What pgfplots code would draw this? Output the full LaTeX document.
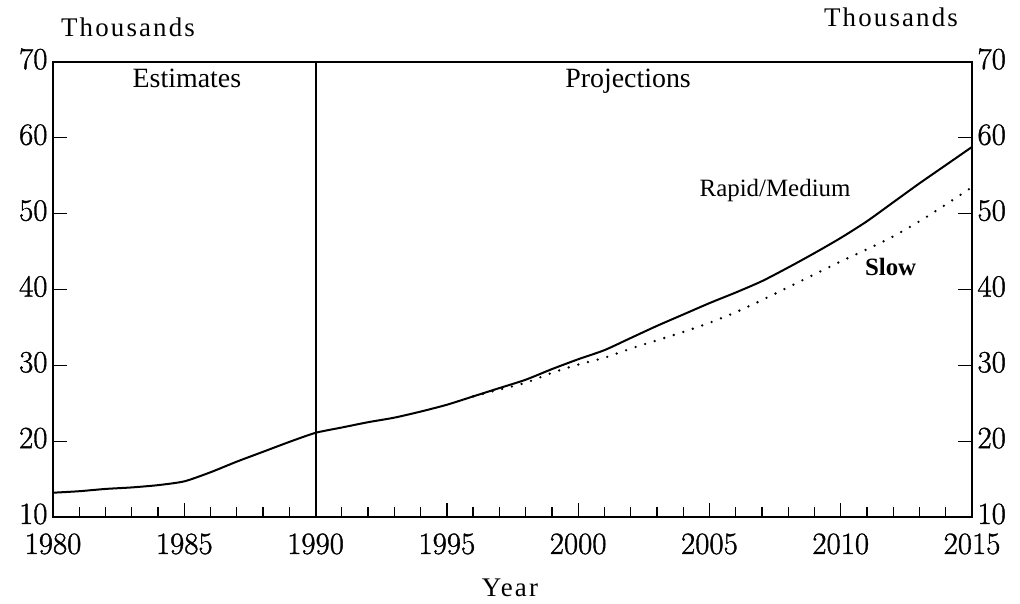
\documentclass[border=0pt]{standalone}
\usepackage{pgfplots}
\pgfplotsset{compat=1.18}
\usepackage{fontspec}
\setmainfont{Liberation Serif}
\newfontfamily\lm[FakeBold=1.2]{Latin Modern Roman}
\newfontfamily\spaced[LetterSpace=8]{Liberation Serif}

\pgfplotstableread{
year val
1980 13.2
1981 13.4
1982 13.7
1983 13.9
1984 14.2
1985 14.7
1986 15.9
1987 17.3
1988 18.6
1989 19.9
1990 21.1
1991 21.8
1992 22.5
1993 23.1
1994 23.9
1995 24.8
1996 25.9
1997 27.0
1998 28.1
1999 29.5
2000 30.8
2001 32.0
2002 33.6
2003 35.2
2004 36.7
2005 38.2
2006 39.6
2007 41.1
2008 42.9
2009 44.8
2010 46.8
2011 49.0
2012 51.5
2013 54.0
2014 56.4
2015 58.8
}\rapid

\pgfplotstableread{
year val
1996 25.9
1997 26.8
1998 27.7
1999 29.0
2000 30.1
2001 31.0
2002 32.2
2003 33.3
2004 34.4
2005 35.6
2006 37.0
2007 38.6
2008 40.3
2009 42.0
2010 43.7
2011 45.3
2012 47.0
2013 49.0
2014 51.2
2015 53.5
}\slow

\begin{document}
\begin{tikzpicture}[x=1bp,y=1bp]
\path[use as bounding box] (-53,-87) rectangle (967,517);
\pgfplotsset{
  common/.style={
    at={(0,0)}, anchor=south west, scale only axis,
    width=919bp, height=455bp,
    xmin=1980, xmax=2015, ymin=10, ymax=70,
    ytick={10,20,...,70},
    tick align=inside,
    major tick length=14bp, minor tick length=10bp,
    tick style={line width=1.3bp, black},
    axis line style={line width=2.2bp},
    /pgf/number format/assume math mode=true,
    /pgf/number format/1000 sep={},
    ticklabel style={font=\lm\fontsize{31}{31}\selectfont},
  }
}
\begin{axis}[common,
  xtick={1980,1985,...,2015},
  minor x tick num=4,
  xtick pos=bottom, ytick pos=left,
  xticklabel style={yshift=-13bp},
  yticklabel style={xshift=-2bp, yshift=3bp},
]
\addplot[black, line width=2bp] coordinates {(1990,10) (1990,70)};
\addplot[black, line width=2bp, smooth, tension=0.4] table[x=year,y=val] {\rapid};
\addplot[black, line width=2.6bp, line cap=round, dash pattern=on 0bp off 10bp, smooth, tension=0.4] table[x=year,y=val] {\slow};
\node[anchor=base, font=\fontsize{28}{28}\selectfont] at (axis cs:1985.1,66.6) {Estimates};
\node[anchor=base, font=\fontsize{28}{28}\selectfont] at (axis cs:2001.9,66.6) {Projections};
\node[anchor=base, font=\fontsize{25}{25}\selectfont] at (axis cs:2007.5,52.2) {Rapid/Medium};
\node[anchor=base, font=\bfseries\fontsize{25}{25}\selectfont] at (axis cs:2011.9,41.9) {Slow};
\end{axis}
\begin{axis}[common,
  hide x axis,
  axis y line*=right,
  yticklabel style={xshift=2bp, yshift=3bp},
]
\end{axis}
\node[anchor=base, font=\spaced\fontsize{27}{27}\selectfont] at (75,480) {Thousands};
\node[anchor=base, font=\spaced\fontsize{27}{27}\selectfont] at (838,490) {Thousands};
\node[anchor=base, font=\spaced\fontsize{27}{27}\selectfont] at (457,-80) {Year};
\end{tikzpicture}
\end{document}
